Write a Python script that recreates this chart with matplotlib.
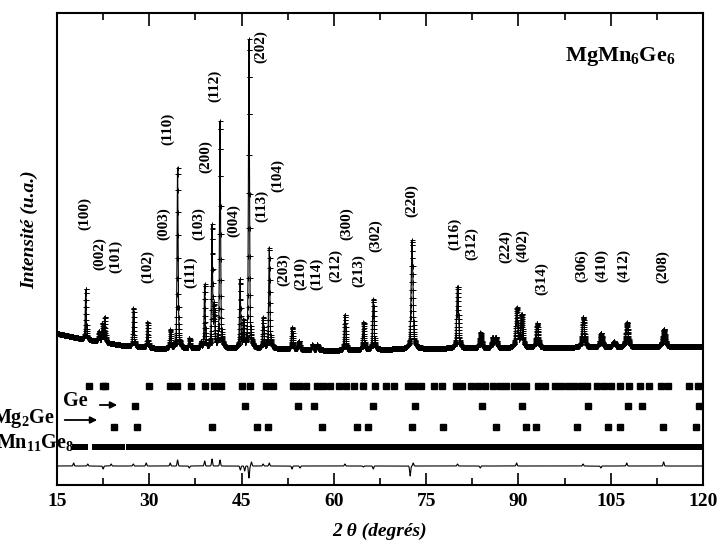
import numpy as np
import matplotlib
matplotlib.use("Agg")
import matplotlib.pyplot as plt
from matplotlib.ticker import MultipleLocator

plt.rcParams['font.family'] = ['Liberation Serif', 'DejaVu Serif']
plt.rcParams['font.weight'] = 'bold'
plt.rcParams['mathtext.fontset'] = 'custom'
plt.rcParams['mathtext.rm'] = 'Liberation Serif:bold'
plt.rcParams['mathtext.it'] = 'Liberation Serif:bold:italic'
plt.rcParams['mathtext.bf'] = 'Liberation Serif:bold'

# ---------------- data ----------------
# diffraction peaks (2theta, height above background, FWHM)
peak_pos = [19.67, 21.8, 22.35, 22.75, 27.4, 29.7, 33.4, 34.6, 36.5, 38.4, 39.0, 40.2, 40.55,
            41.5, 44.75, 45.3, 46.2, 48.5, 49.5, 53.2, 54.3, 56.5, 57.3, 61.8, 64.8, 66.4,
            72.7, 80.1, 83.8, 85.8, 86.3, 89.7, 90.5, 93.0, 100.5, 103.4, 105.5, 107.6, 113.6]
peak_height = [50, 10, 18, 25, 38, 25, 18, 180, 10, 6, 63, 121, 40,
               226, 68, 26, 308, 30, 100, 21, 8, 5, 5, 35, 27, 50,
               108, 61, 15, 10, 10, 39, 32, 24, 30, 14, 5, 24, 17]
peak_fwhm = [0.18, 0.2, 0.2, 0.2, 0.2, 0.2, 0.2, 0.2, 0.2, 0.2, 0.2, 0.2, 0.2,
             0.2, 0.2, 0.2, 0.2, 0.22, 0.22, 0.24, 0.24, 0.25, 0.25, 0.26, 0.27, 0.27,
             0.34, 0.34, 0.36, 0.36, 0.36, 0.38, 0.38, 0.39, 0.42, 0.42, 0.44, 0.44, 0.48]

# background level
bg_pos = [15, 18.7, 25.7, 31.3, 50, 60, 75, 97, 120]
bg_level = [152, 147, 140, 137, 137, 135, 137, 138, 139]

# difference curve features (2theta, amplitude)
diff_pos = [17.7, 20.0, 22.5, 23.8, 27.4, 29.5, 33.4, 34.6, 36.5, 39.0, 40.2, 41.5, 44.8, 45.5,
            46.2, 46.6, 48.5, 49.5, 53.2, 54.5, 61.8, 64.8, 66.4, 72.4, 72.9, 80.1, 83.8,
            89.7, 100.5, 103.4, 107.6, 113.6]
diff_amp = [3, 2, -3, 2, 2, 3, 3, 6, -2, 5, 7, 6, -4, -5,
            -12, 4, 2, 3, -3, -2, 2, -1, -3, -10, 3, 2, -2,
            3, 2, -2, 3, 4]

# Bragg reflection positions
bragg_main = [20.15, 22.4, 22.8, 29.9, 33.4, 34.5, 36.7, 39.1, 40.5, 41.6, 45.1, 46.3, 49.0, 50.1,
              53.3, 54.4, 55.5, 57.2, 58.2, 59.3, 60.9, 62.0, 63.2, 64.8, 66.7, 68.4, 69.7,
              72.0, 73.0, 74.1, 76.2, 77.5, 79.9, 80.9, 82.3, 83.4, 84.5, 85.9, 87.0, 87.9,
              89.2, 90.3, 91.3, 93.2, 94.3, 95.9, 97.0, 98.1, 99.1, 100.2, 101.2, 102.8,
              103.9, 105.1, 106.5, 107.9, 109.7, 111.3, 113.1, 114.3, 117.7, 119.2]
bragg_ge = [27.6, 45.6, 54.2, 56.7, 66.4, 73.2, 84.0, 90.6, 101.3, 107.8, 110.1, 119.4]
bragg_mg2ge = [24.3, 28.0, 40.2, 47.5, 49.3, 58.0, 63.8, 65.6, 72.7, 77.8, 86.3, 91.3, 92.9,
               99.5, 104.6, 106.5, 113.5, 118.9]
mn11ge8_start = [17.4, 20.7, 26.15]
mn11ge8_end = [20.1, 26.0, 120.0]

# Miller index labels
hkl_labels = ['(100)', '(002)', '(101)', '(102)', '(003)', '(110)', '(111)', '(103)', '(200)',
              '(112)', '(004)', '(202)', '(113)', '(104)', '(203)', '(210)', '(114)', '(212)',
              '(300)', '(213)', '(302)', '(220)', '(116)', '(312)', '(224)', '(402)', '(314)',
              '(306)', '(410)', '(412)', '(208)']
hkl_x = [19.55, 21.99, 24.59, 29.79, 32.39, 33.04, 36.78, 38.08, 39.22, 40.68, 43.77, 48.16,
         48.32, 50.92, 51.90, 54.66, 57.26, 60.35, 62.14, 64.09, 66.85, 72.71, 79.70, 82.46,
         87.99, 90.75, 93.84, 100.34, 103.59, 107.17, 113.51]
hkl_y = [255, 215, 212, 202, 245, 340, 197, 245, 312, 383, 248, 422, 263, 293, 199, 195, 195,
         203, 245, 198, 233, 268, 235, 225, 222, 223, 190, 203, 203, 203, 202]

# ---------------- build profiles ----------------
two_theta = np.arange(15.0, 120.0001, 0.02)


def pvoigt(x, x0, h, w, eta=0.5):
    u = (x - x0) / (w / 2.0)
    return h * (eta / (1 + u ** 2) + (1 - eta) * np.exp(-np.log(2) * u ** 2))


y_calc = np.interp(two_theta, bg_pos, bg_level).astype(float)
for p, h, w in zip(peak_pos, peak_height, peak_fwhm):
    y_calc += pvoigt(two_theta, p, h, w)
y_obs = y_calc.copy()

diff_base = 19.0
y_diff = np.full_like(two_theta, diff_base)
for p, a in zip(diff_pos, diff_amp):
    y_diff += a * np.exp(-((two_theta - p) / 0.12) ** 2)

# ---------------- figure ----------------
fig = plt.figure(figsize=(7.21, 5.51), dpi=100)
ax = fig.add_axes([57 / 721, 1 - 485 / 551, (703 - 57) / 721, (485 - 13) / 551])

ax.plot(two_theta, y_obs, linestyle='none', marker='+', ms=3.6, mew=0.7, color='k')
ax.plot(two_theta, y_calc, '-', lw=0.8, color='k')
ax.plot(two_theta, y_diff, '-', lw=0.8, color='k')

ax.plot(bragg_main, [99] * len(bragg_main), 's', ms=4, color='k')
ax.plot(bragg_ge, [79] * len(bragg_ge), 's', ms=4, color='k')
ax.plot(bragg_mg2ge, [58.5] * len(bragg_mg2ge), 's', ms=4, color='k')
ax.broken_barh([(s, e - s) for s, e in zip(mn11ge8_start, mn11ge8_end)], (35, 6.5),
               facecolor='k', edgecolor='none')

for lab, xx, yy in zip(hkl_labels, hkl_x, hkl_y):
    ax.text(xx, yy, lab, rotation=90, ha='center', va='bottom', fontsize=11, fontweight='bold')

ax.text(97.5, 428, r'MgMn$_6$Ge$_6$', fontsize=16, fontweight='bold',
        ha='left', va='center')

# phase labels
ax.text(16.0, 83.5, 'Ge', fontsize=14.5, fontweight='bold', ha='left', va='center')
ax.annotate('', xy=(25.24, 80), xytext=(21.5, 80),
            arrowprops=dict(arrowstyle='-|>', color='k', lw=1.3, mutation_scale=10))
ax.annotate('', xy=(21.99, 65), xytext=(15.8, 65),
            arrowprops=dict(arrowstyle='-|>', color='k', lw=1.3, mutation_scale=10))
fig.text(55 / 721, 1 - 423 / 551, r'Mg$_2$Ge', fontsize=14.5, fontweight='bold',
         ha='right', va='baseline')
fig.text(74 / 721, 1 - 448 / 551, r'Mn$_{11}$Ge$_8$', fontsize=14.5, fontweight='bold',
         ha='right', va='baseline', zorder=5)

ax.set_xlim(15, 120)
ax.set_ylim(0, 472)
ax.set_yticks([])
ax.set_xticks(np.arange(15, 121, 15))
ax.xaxis.set_minor_locator(MultipleLocator(7.5))
ax.tick_params(axis='x', which='both', direction='in', top=True, width=1.2)
ax.tick_params(axis='x', which='major', length=9, labelsize=14, pad=6)
ax.tick_params(axis='x', which='minor', length=5)
for lbl in ax.get_xticklabels():
    lbl.set_fontweight('bold')
for sp in ax.spines.values():
    sp.set_linewidth(1.5)

ax.set_xlabel('2 θ (degrés)', fontsize=14, fontweight='bold', fontstyle='italic', labelpad=9)
fig.text(30 / 721, 1 - 230 / 551, 'Intensité (u.a.)', rotation=90, fontsize=14,
         fontweight='bold', fontstyle='italic', ha='center', va='center')

fig.savefig('out.png', dpi=100)
